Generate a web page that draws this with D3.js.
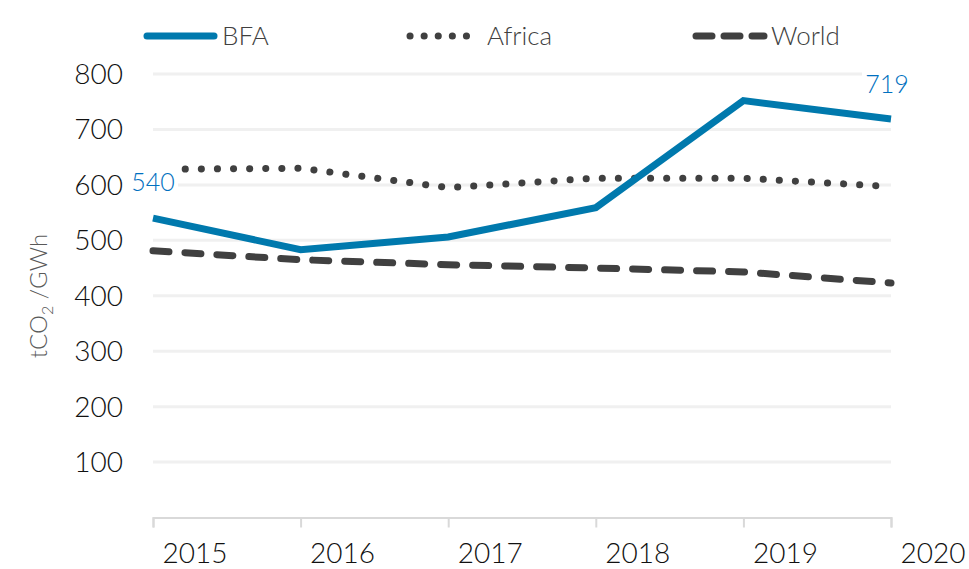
<!DOCTYPE html>
<html>
<head>
<meta charset="utf-8">
<script src="https://cdn.jsdelivr.net/npm/d3@7"></script>
<style>
  body { margin: 0; background: #fff; }
  text { font-family: Lato, "Noto Sans", sans-serif; font-weight: 300; }
</style>
</head>
<body>
<svg id="chart" width="969" height="569"></svg>
<script>
const years = [2015, 2016, 2017, 2018, 2019, 2020];
const bfa = [540, 483, 506, 559, 752, 719];
const africa = [628, 630, 595, 612, 612, 597];
const world = [481, 465, 456, 450, 443, 423];
const yTicks = [100, 200, 300, 400, 500, 600, 700, 800];

const svg = d3.select('#chart');

const x = d3.scaleLinear().domain([2015, 2020]).range([153, 891]);
const y = d3.scaleLinear().domain([0, 800]).range([517.5, 74]);

// gridlines
svg.append('g').
selectAll('line').
data(yTicks).
enter().
append('line').
attr('x1', x(2015)).
attr('x2', x(2020)).
attr('y1', d => y(d)).
attr('y2', d => y(d)).
attr('stroke', '#f0f0f0').
attr('stroke-width', 3);

// y tick labels
svg.append('g').
selectAll('text').
data(yTicks).
enter().
append('text').
attr('x', 123).
attr('y', d => y(d) + 10).
attr('text-anchor', 'end').
attr('font-size', 28).
attr('fill', '#111').
text(d => d);

// x axis
const xAxis = d3.axisBottom(x).
tickValues(years).
tickSize(10).
tickFormat('');

const gx = svg.append('g').
attr('transform', 'translate(0,' + y(0) + ')').
call(xAxis);
gx.select('.domain').attr('stroke', '#d9d9d9').attr('stroke-width', 2);
gx.selectAll('.tick line').attr('stroke', '#d9d9d9').attr('stroke-width', 2);

svg.append('g').
selectAll('text').
data(years).
enter().
append('text').
attr('x', d => x(d) + 42).
attr('y', 563).
attr('text-anchor', 'middle').
attr('font-size', 28).
attr('fill', '#111').
text(d => d);

// y axis title
const yt = svg.append('text').
attr('transform', 'translate(47,296) rotate(-90)').
attr('text-anchor', 'middle').
attr('font-size', 24).
attr('fill', '#595959');
yt.append('tspan').text('tCO');
yt.append('tspan').attr('font-size', 16).attr('dy', 6).text('2');
yt.append('tspan').attr('dy', -6).text(' /GWh');

const line = d3.line().
x((d, i) => x(years[i])).
y(d => y(d));

svg.append('path').
datum(world).
attr('d', line).
attr('fill', 'none').
attr('stroke', '#404040').
attr('stroke-width', 7).
attr('stroke-linecap', 'round').
attr('stroke-dasharray', '16 16');

svg.append('path').
datum(africa).
attr('d', line).
attr('fill', 'none').
attr('stroke', '#404040').
attr('stroke-width', 7).
attr('stroke-linecap', 'round').
attr('stroke-dasharray', '0.1 16');

svg.append('path').
datum(bfa).
attr('d', line).
attr('fill', 'none').
attr('stroke', '#0079ad').
attr('stroke-width', 7);

// data labels
const labels = [
  { i: 0, dx: 0, dy: -29 },
  { i: 5, dx: -4, dy: -28 }
];
labels.forEach(l => {
  const lx = x(years[l.i]) + l.dx;
  const ly = y(bfa[l.i]) + l.dy;
  svg.append('rect').
  attr('x', lx - 25).
  attr('y', ly - 28).
  attr('width', 50).
  attr('height', 38).
  attr('fill', '#fff');
  svg.append('text').
  attr('x', lx).
  attr('y', ly + 2).
  attr('text-anchor', 'middle').
  attr('font-size', 25).
  attr('font-weight', 400).
  attr('fill', '#0070c0').
  text(bfa[l.i]);
});

// legend
const legend = svg.append('g');
legend.append('line').
attr('x1', 147).attr('x2', 214).attr('y1', 36).attr('y2', 36).
attr('stroke', '#0079ad').attr('stroke-width', 7).attr('stroke-linecap', 'round');
legend.append('line').
attr('x1', 410).attr('x2', 479).attr('y1', 36).attr('y2', 36).
attr('stroke', '#404040').attr('stroke-width', 7).attr('stroke-linecap', 'round').
attr('stroke-dasharray', '0.1 14');
legend.append('line').
attr('x1', 696).attr('x2', 764).attr('y1', 36).attr('y2', 36).
attr('stroke', '#404040').attr('stroke-width', 7).attr('stroke-linecap', 'round').
attr('stroke-dasharray', '16 12');

const legendItems = [
  { name: 'BFA', x: 222 },
  { name: 'Africa', x: 487 },
  { name: 'World', x: 771 }
];
legend.selectAll('text.lg').
data(legendItems).
enter().
append('text').
attr('x', d => d.x).
attr('y', 45).
attr('font-size', 26).
attr('fill', '#404040').
text(d => d.name);
</script>
</body>
</html>
